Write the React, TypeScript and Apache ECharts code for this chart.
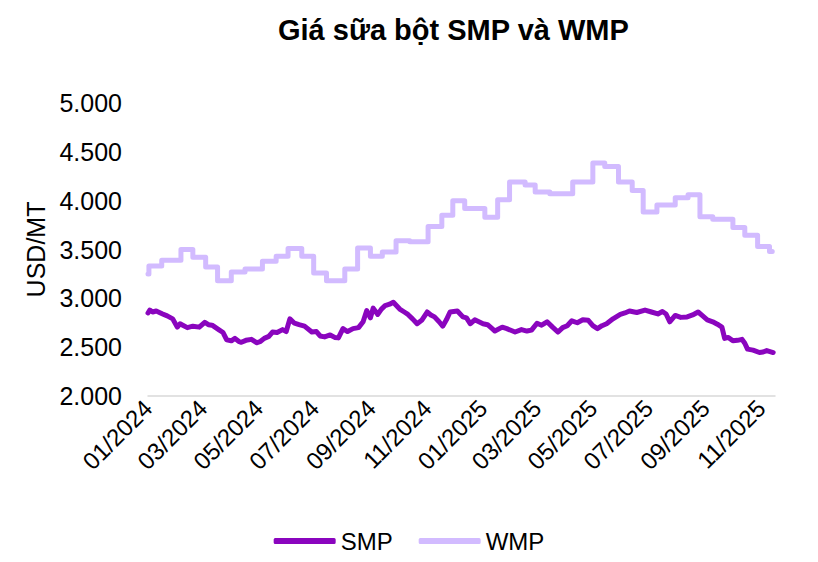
import React, { useEffect, useRef } from "react";
import * as echarts from "echarts";

const titleText = "Giá sữa bột SMP và WMP";
const yAxisName = "USD/MT";
const seriesNames = ["SMP", "WMP"];

const xTickDates = [
  "2024-01-01", "2024-03-01", "2024-05-01", "2024-07-01", "2024-09-01", "2024-11-01",
  "2025-01-01", "2025-03-01", "2025-05-01", "2025-07-01", "2025-09-01", "2025-11-01",
];
const xMinDate = "2024-01-01";
const xMaxDate = "2025-11-16";
const yMin = 2000;
const yMax = 5000;
const yStep = 500;

const smpDates = [
  "2024-01-01", "2024-01-03", "2024-01-06", "2024-01-10", "2024-01-17", "2024-01-22",
  "2024-01-28", "2024-02-02", "2024-02-05", "2024-02-08", "2024-02-13", "2024-02-19",
  "2024-02-26", "2024-03-03", "2024-03-07", "2024-03-11", "2024-03-19", "2024-03-23",
  "2024-03-27", "2024-04-01", "2024-04-05", "2024-04-09", "2024-04-12", "2024-04-17",
  "2024-04-23", "2024-04-29", "2024-05-03", "2024-05-07", "2024-05-12", "2024-05-16",
  "2024-05-21", "2024-05-27", "2024-05-31", "2024-06-04", "2024-06-09", "2024-06-14",
  "2024-06-20", "2024-06-28", "2024-07-03", "2024-07-07", "2024-07-12", "2024-07-18",
  "2024-07-23", "2024-07-27", "2024-08-01", "2024-08-06", "2024-08-12", "2024-08-18",
  "2024-08-23", "2024-08-27", "2024-08-31", "2024-09-03", "2024-09-08", "2024-09-12",
  "2024-09-16", "2024-09-21", "2024-09-25", "2024-10-02", "2024-10-07", "2024-10-11",
  "2024-10-16", "2024-10-21", "2024-10-26", "2024-11-01", "2024-11-05", "2024-11-09",
  "2024-11-14", "2024-11-18", "2024-11-22", "2024-11-26", "2024-12-04", "2024-12-10",
  "2024-12-14", "2024-12-18", "2024-12-23", "2025-01-01", "2025-01-06", "2025-01-11",
  "2025-01-14", "2025-01-22", "2025-01-27", "2025-02-05", "2025-02-12", "2025-02-18",
  "2025-02-23", "2025-03-01", "2025-03-06", "2025-03-12", "2025-03-18", "2025-03-24",
  "2025-03-29", "2025-04-03", "2025-04-08", "2025-04-14", "2025-04-20", "2025-04-26",
  "2025-05-01", "2025-05-06", "2025-05-11", "2025-05-16", "2025-05-23", "2025-05-31",
  "2025-06-05", "2025-06-10", "2025-06-18", "2025-06-27", "2025-07-04", "2025-07-11",
  "2025-07-16", "2025-07-20", "2025-07-24", "2025-07-30", "2025-08-05", "2025-08-12",
  "2025-08-18", "2025-08-24", "2025-08-29", "2025-09-03", "2025-09-09", "2025-09-14",
  "2025-09-19", "2025-09-22", "2025-09-26", "2025-10-01", "2025-10-06", "2025-10-11",
  "2025-10-14", "2025-10-17", "2025-10-23", "2025-10-30", "2025-11-03", "2025-11-07",
  "2025-11-14",
];
const smpValues = [
  2850, 2880, 2860, 2870, 2840, 2820,
  2790, 2705, 2740, 2725, 2700, 2715,
  2705, 2755, 2730, 2725, 2675, 2650,
  2575, 2565, 2590, 2560, 2550, 2570,
  2580, 2545, 2560, 2590, 2610, 2655,
  2650, 2680, 2660, 2790, 2745, 2730,
  2715, 2655, 2660, 2615, 2605, 2625,
  2600, 2595, 2690, 2660, 2690, 2700,
  2760, 2875, 2800, 2900, 2835, 2890,
  2925, 2940, 2960, 2890, 2860, 2835,
  2790, 2740, 2775, 2860, 2830, 2810,
  2760, 2715, 2780, 2860, 2870, 2810,
  2800, 2740, 2780, 2740, 2730, 2690,
  2665, 2705, 2690, 2655, 2680, 2665,
  2675, 2745, 2725, 2760, 2705, 2655,
  2700, 2720, 2770, 2750, 2780, 2775,
  2720, 2690, 2720, 2740, 2790, 2835,
  2850, 2870, 2855, 2880, 2860, 2840,
  2865, 2840, 2760, 2825, 2805, 2810,
  2830, 2860, 2820, 2780, 2760, 2735,
  2705, 2590, 2600, 2565, 2570, 2580,
  2540, 2480, 2470, 2445, 2450, 2465,
  2445,
];

const wmpDates = [
  "2024-01-01", "2024-01-02", "2024-01-16", "2024-02-06", "2024-02-19", "2024-03-04",
  "2024-03-17", "2024-04-01", "2024-04-16", "2024-05-05", "2024-05-20", "2024-06-02",
  "2024-06-17", "2024-06-30", "2024-07-14", "2024-08-03", "2024-08-17", "2024-08-31",
  "2024-09-13", "2024-09-28", "2024-10-13", "2024-11-02", "2024-11-17", "2024-11-29",
  "2024-12-12", "2025-01-03", "2025-01-17", "2025-01-30", "2025-02-16", "2025-02-27",
  "2025-03-15", "2025-04-09", "2025-05-01", "2025-05-14", "2025-05-29", "2025-06-13",
  "2025-06-25", "2025-07-10", "2025-07-30", "2025-08-13", "2025-08-26", "2025-09-09",
  "2025-10-01", "2025-10-14", "2025-10-28", "2025-11-10", "2025-11-13",
];
const wmpValues = [
  3250, 3330, 3390, 3500, 3420, 3320,
  3180, 3270, 3300, 3380, 3430, 3510,
  3430, 3260, 3180, 3300, 3515, 3430,
  3475, 3590, 3580, 3735, 3850, 4000,
  3920, 3830, 4010, 4190, 4160, 4090,
  4070, 4190, 4385, 4350, 4190, 4105,
  3885, 3955, 4030, 4060, 3835, 3810,
  3725, 3645, 3530, 3480, 3480,
];

const smpColor = "#8A05BE";
const wmpColor = "#D2BBFF";
const fontFamily = "'Liberation Sans', Arial, sans-serif";

function toTs(s: string): number {
  const [y, m, d] = s.split("-").map(Number);
  return new Date(y, m - 1, d).getTime();
}

function fmtThousands(v: number): string {
  return String(Math.round(v)).replace(/\B(?=(\d{3})+(?!\d))/g, ".");
}

function fmtMonth(v: number): string {
  const d = new Date(v);
  const m = d.getMonth() + 1;
  return (m < 10 ? "0" + m : String(m)) + "/" + d.getFullYear();
}

export default function App() {
  const ref = useRef<HTMLDivElement>(null);

  useEffect(() => {
    document.body.style.margin = "0";
    if (!ref.current) return;
    const chart = echarts.init(ref.current, undefined, { renderer: "svg" });
    const smpData = smpDates.map((d, i) => [toTs(d), smpValues[i]]);
    const wmpData = wmpDates.map((d, i) => [toTs(d), wmpValues[i]]);

    chart.setOption({
      animation: false,
      backgroundColor: "#ffffff",
      textStyle: { fontFamily },
      title: {
        text: titleText,
        left: 278,
        top: 15,
        padding: 0,
        textStyle: { fontFamily, fontSize: 29, fontWeight: "bold", color: "#000" },
      },
      legend: {
        data: seriesNames,
        left: "center",
        top: 524,
        icon: "roundRect",
        itemWidth: 62,
        itemHeight: 6,
        itemGap: 26,
        textStyle: { fontFamily, fontSize: 24, color: "#000" },
      },
      grid: { left: 148, right: 43, top: 103, bottom: 166, containLabel: false },
      xAxis: {
        type: "value",
        min: toTs(xMinDate),
        max: toTs(xMaxDate),
        axisLine: { show: true, lineStyle: { color: "#D9D9D9", width: 1.5 } },
        axisTick: { show: false },
        splitLine: { show: false },
        axisLabel: {
          customValues: xTickDates.map(toTs),
          formatter: (v: number) => fmtMonth(v),
          rotate: 45,
          margin: 8,
          fontSize: 24,
          fontFamily,
          color: "#000",
          hideOverlap: false,
        },
      },
      yAxis: {
        type: "value",
        min: yMin,
        max: yMax,
        interval: yStep,
        name: yAxisName,
        nameLocation: "middle",
        nameGap: 99,
        nameRotate: 90,
        nameTextStyle: { fontFamily, fontSize: 25, color: "#000" },
        axisLine: { show: false },
        axisTick: { show: false },
        splitLine: { show: false },
        axisLabel: {
          formatter: (v: number) => fmtThousands(v),
          fontSize: 25,
          fontFamily,
          color: "#000",
          margin: 26,
        },
      },
      series: [
        {
          name: seriesNames[0],
          type: "line",
          data: smpData,
          symbol: "none",
          color: smpColor,
          lineStyle: { color: smpColor, width: 5, join: "round", cap: "round" },
          z: 3,
        },
        {
          name: seriesNames[1],
          type: "line",
          data: wmpData,
          step: "end",
          symbol: "none",
          color: wmpColor,
          lineStyle: { color: wmpColor, width: 5, join: "round", cap: "round" },
          z: 2,
        },
      ],
    });
    return () => chart.dispose();
  }, []);

  return <div ref={ref} style={{ width: 818, height: 562 }} />;
}
